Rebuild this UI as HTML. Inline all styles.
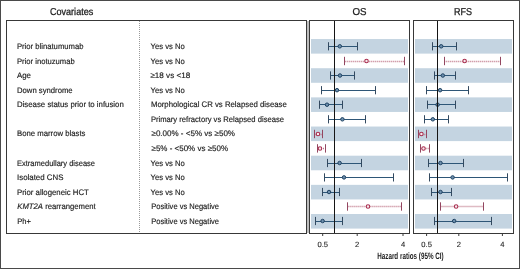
<!DOCTYPE html>
<html><head><meta charset="utf-8"><style>
html,body{margin:0;padding:0;background:#fff;}
body{width:520px;height:269px;overflow:hidden;font-family:"Liberation Sans",sans-serif;}
svg{display:block;will-change:transform;}
</style></head><body>
<svg width="520" height="269" viewBox="0 0 520 269">
<rect x="0.5" y="0.5" width="519" height="268" fill="none" stroke="#4a4a4a" stroke-width="1"/>
<rect x="6.5" y="20.5" width="300" height="213" fill="none" stroke="#383838" stroke-width="1"/>
<rect x="307" y="21" width="2" height="212" fill="#bdbdbd"/>
<line x1="139.5" y1="21" x2="139.5" y2="233" stroke="#9a9a9a" stroke-width="1" stroke-dasharray="1 1"/>
<rect x="311" y="39.05" width="97" height="14.58" fill="#c4d4e1"/>
<rect x="311" y="68.21" width="97" height="14.58" fill="#c4d4e1"/>
<rect x="311" y="97.37" width="97" height="14.58" fill="#c4d4e1"/>
<rect x="311" y="126.53" width="97" height="14.58" fill="#c4d4e1"/>
<rect x="311" y="155.69" width="97" height="14.58" fill="#c4d4e1"/>
<rect x="311" y="184.85" width="97" height="14.58" fill="#c4d4e1"/>
<rect x="311" y="214.01" width="97" height="14.58" fill="#c4d4e1"/>
<rect x="415" y="39.05" width="97" height="14.58" fill="#c4d4e1"/>
<rect x="415" y="68.21" width="97" height="14.58" fill="#c4d4e1"/>
<rect x="415" y="97.37" width="97" height="14.58" fill="#c4d4e1"/>
<rect x="415" y="126.53" width="97" height="14.58" fill="#c4d4e1"/>
<rect x="415" y="155.69" width="97" height="14.58" fill="#c4d4e1"/>
<rect x="415" y="184.85" width="97" height="14.58" fill="#c4d4e1"/>
<rect x="415" y="214.01" width="97" height="14.58" fill="#c4d4e1"/>
<rect x="309.5" y="20.5" width="100" height="213" fill="none" stroke="#383838" stroke-width="1"/>
<rect x="413.5" y="20.5" width="100" height="213" fill="none" stroke="#383838" stroke-width="1"/>
<line x1="322.7" y1="233" x2="322.7" y2="236" stroke="#383838" stroke-width="1"/>
<line x1="357.2" y1="233" x2="357.2" y2="236" stroke="#383838" stroke-width="1"/>
<line x1="403.0" y1="233" x2="403.0" y2="236" stroke="#383838" stroke-width="1"/>
<line x1="426.6" y1="233" x2="426.6" y2="236" stroke="#383838" stroke-width="1"/>
<line x1="458.8" y1="233" x2="458.8" y2="236" stroke="#383838" stroke-width="1"/>
<line x1="502.4" y1="233" x2="502.4" y2="236" stroke="#383838" stroke-width="1"/>
<line x1="328.7" y1="46.5" x2="357.5" y2="46.5" stroke="#2e5677" stroke-width="1"/>
<line x1="328.5" y1="42.20" x2="328.5" y2="50.40" stroke="#33495f" stroke-width="1"/>
<line x1="357.5" y1="42.20" x2="357.5" y2="50.40" stroke="#33495f" stroke-width="1"/>
<circle cx="339.8" cy="46.30" r="1.75" fill="#6d8fad" stroke="#1f4262" stroke-width="1"/>
<line x1="344.7" y1="61.5" x2="404.3" y2="61.5" stroke="#bf7688" stroke-width="1.4" stroke-dasharray="1 1"/>
<line x1="344.5" y1="56.80" x2="344.5" y2="65.20" stroke="#934660" stroke-width="1"/>
<line x1="404.5" y1="56.80" x2="404.5" y2="65.20" stroke="#934660" stroke-width="1"/>
<circle cx="366.5" cy="61.00" r="1.75" fill="#f6eaee" stroke="#a82b4d" stroke-width="1.05"/>
<line x1="330.6" y1="75.5" x2="354" y2="75.5" stroke="#2e5677" stroke-width="1"/>
<line x1="330.5" y1="71.40" x2="330.5" y2="79.60" stroke="#33495f" stroke-width="1"/>
<line x1="354.5" y1="71.40" x2="354.5" y2="79.60" stroke="#33495f" stroke-width="1"/>
<circle cx="340" cy="75.50" r="1.75" fill="#6d8fad" stroke="#1f4262" stroke-width="1"/>
<line x1="321.4" y1="90.5" x2="375.6" y2="90.5" stroke="#2e5677" stroke-width="1"/>
<line x1="321.5" y1="86.10" x2="321.5" y2="94.30" stroke="#33495f" stroke-width="1"/>
<line x1="375.5" y1="86.10" x2="375.5" y2="94.30" stroke="#33495f" stroke-width="1"/>
<circle cx="337" cy="90.20" r="1.75" fill="#6d8fad" stroke="#1f4262" stroke-width="1"/>
<line x1="319.6" y1="104.5" x2="342.4" y2="104.5" stroke="#2e5677" stroke-width="1"/>
<line x1="319.5" y1="100.60" x2="319.5" y2="108.80" stroke="#33495f" stroke-width="1"/>
<line x1="342.5" y1="100.60" x2="342.5" y2="108.80" stroke="#33495f" stroke-width="1"/>
<circle cx="327" cy="104.70" r="1.75" fill="#6d8fad" stroke="#1f4262" stroke-width="1"/>
<line x1="328.6" y1="119.5" x2="365" y2="119.5" stroke="#2e5677" stroke-width="1"/>
<line x1="328.5" y1="115.20" x2="328.5" y2="123.40" stroke="#33495f" stroke-width="1"/>
<line x1="365.5" y1="115.20" x2="365.5" y2="123.40" stroke="#33495f" stroke-width="1"/>
<circle cx="342.4" cy="119.30" r="1.75" fill="#6d8fad" stroke="#1f4262" stroke-width="1"/>
<line x1="314.6" y1="134.5" x2="322.4" y2="134.5" stroke="#bf7688" stroke-width="1.4" stroke-dasharray="1 1"/>
<line x1="314.5" y1="129.80" x2="314.5" y2="138.20" stroke="#934660" stroke-width="1"/>
<line x1="322.5" y1="129.80" x2="322.5" y2="138.20" stroke="#934660" stroke-width="1"/>
<circle cx="318" cy="134.00" r="1.75" fill="#f6eaee" stroke="#a82b4d" stroke-width="1.05"/>
<line x1="317" y1="148.5" x2="325" y2="148.5" stroke="#bf7688" stroke-width="1.4" stroke-dasharray="1 1"/>
<line x1="317.5" y1="144.20" x2="317.5" y2="152.60" stroke="#934660" stroke-width="1"/>
<line x1="325.5" y1="144.20" x2="325.5" y2="152.60" stroke="#934660" stroke-width="1"/>
<circle cx="320" cy="148.40" r="1.75" fill="#f6eaee" stroke="#a82b4d" stroke-width="1.05"/>
<line x1="327.6" y1="163.5" x2="361.6" y2="163.5" stroke="#2e5677" stroke-width="1"/>
<line x1="327.5" y1="158.90" x2="327.5" y2="167.10" stroke="#33495f" stroke-width="1"/>
<line x1="361.5" y1="158.90" x2="361.5" y2="167.10" stroke="#33495f" stroke-width="1"/>
<circle cx="339.6" cy="163.00" r="1.75" fill="#6d8fad" stroke="#1f4262" stroke-width="1"/>
<line x1="324" y1="177.5" x2="393.6" y2="177.5" stroke="#2e5677" stroke-width="1"/>
<line x1="324.5" y1="173.30" x2="324.5" y2="181.50" stroke="#33495f" stroke-width="1"/>
<line x1="393.5" y1="173.30" x2="393.5" y2="181.50" stroke="#33495f" stroke-width="1"/>
<circle cx="344" cy="177.40" r="1.75" fill="#6d8fad" stroke="#1f4262" stroke-width="1"/>
<line x1="322.6" y1="192.5" x2="339.4" y2="192.5" stroke="#2e5677" stroke-width="1"/>
<line x1="322.5" y1="187.90" x2="322.5" y2="196.10" stroke="#33495f" stroke-width="1"/>
<line x1="339.5" y1="187.90" x2="339.5" y2="196.10" stroke="#33495f" stroke-width="1"/>
<circle cx="329" cy="192.00" r="1.75" fill="#6d8fad" stroke="#1f4262" stroke-width="1"/>
<line x1="347.6" y1="206.5" x2="401.6" y2="206.5" stroke="#bf7688" stroke-width="1.4" stroke-dasharray="1 1"/>
<line x1="347.5" y1="202.30" x2="347.5" y2="210.70" stroke="#934660" stroke-width="1"/>
<line x1="401.5" y1="202.30" x2="401.5" y2="210.70" stroke="#934660" stroke-width="1"/>
<circle cx="368" cy="206.50" r="1.75" fill="#f6eaee" stroke="#a82b4d" stroke-width="1.05"/>
<line x1="315.4" y1="221.5" x2="342.4" y2="221.5" stroke="#2e5677" stroke-width="1"/>
<line x1="315.5" y1="216.90" x2="315.5" y2="225.10" stroke="#33495f" stroke-width="1"/>
<line x1="342.5" y1="216.90" x2="342.5" y2="225.10" stroke="#33495f" stroke-width="1"/>
<circle cx="322.6" cy="221.00" r="1.75" fill="#6d8fad" stroke="#1f4262" stroke-width="1"/>
<line x1="432.2" y1="46.5" x2="456.1" y2="46.5" stroke="#2e5677" stroke-width="1"/>
<line x1="432.5" y1="42.20" x2="432.5" y2="50.40" stroke="#33495f" stroke-width="1"/>
<line x1="456.5" y1="42.20" x2="456.5" y2="50.40" stroke="#33495f" stroke-width="1"/>
<circle cx="441.2" cy="46.30" r="1.75" fill="#6d8fad" stroke="#1f4262" stroke-width="1"/>
<line x1="444.3" y1="61.5" x2="500.5" y2="61.5" stroke="#bf7688" stroke-width="1.4" stroke-dasharray="1 1"/>
<line x1="444.5" y1="56.80" x2="444.5" y2="65.20" stroke="#934660" stroke-width="1"/>
<line x1="500.5" y1="56.80" x2="500.5" y2="65.20" stroke="#934660" stroke-width="1"/>
<circle cx="464.6" cy="61.00" r="1.75" fill="#f6eaee" stroke="#a82b4d" stroke-width="1.05"/>
<line x1="434.5" y1="75.5" x2="455.3" y2="75.5" stroke="#2e5677" stroke-width="1"/>
<line x1="434.5" y1="71.40" x2="434.5" y2="79.60" stroke="#33495f" stroke-width="1"/>
<line x1="455.5" y1="71.40" x2="455.5" y2="79.60" stroke="#33495f" stroke-width="1"/>
<circle cx="442.8" cy="75.50" r="1.75" fill="#6d8fad" stroke="#1f4262" stroke-width="1"/>
<line x1="426.6" y1="90.5" x2="468.6" y2="90.5" stroke="#2e5677" stroke-width="1"/>
<line x1="426.5" y1="86.10" x2="426.5" y2="94.30" stroke="#33495f" stroke-width="1"/>
<line x1="468.5" y1="86.10" x2="468.5" y2="94.30" stroke="#33495f" stroke-width="1"/>
<circle cx="440.1" cy="90.20" r="1.75" fill="#6d8fad" stroke="#1f4262" stroke-width="1"/>
<line x1="427" y1="104.5" x2="455" y2="104.5" stroke="#2e5677" stroke-width="1"/>
<line x1="427.5" y1="100.60" x2="427.5" y2="108.80" stroke="#33495f" stroke-width="1"/>
<line x1="455.5" y1="100.60" x2="455.5" y2="108.80" stroke="#33495f" stroke-width="1"/>
<circle cx="437.6" cy="104.70" r="1.75" fill="#6d8fad" stroke="#1f4262" stroke-width="1"/>
<line x1="424.5" y1="119.5" x2="448.4" y2="119.5" stroke="#2e5677" stroke-width="1"/>
<line x1="424.5" y1="115.20" x2="424.5" y2="123.40" stroke="#33495f" stroke-width="1"/>
<line x1="448.5" y1="115.20" x2="448.5" y2="123.40" stroke="#33495f" stroke-width="1"/>
<circle cx="432.8" cy="119.30" r="1.75" fill="#6d8fad" stroke="#1f4262" stroke-width="1"/>
<line x1="418.3" y1="134.5" x2="426.2" y2="134.5" stroke="#bf7688" stroke-width="1.4" stroke-dasharray="1 1"/>
<line x1="418.5" y1="129.80" x2="418.5" y2="138.20" stroke="#934660" stroke-width="1"/>
<line x1="426.5" y1="129.80" x2="426.5" y2="138.20" stroke="#934660" stroke-width="1"/>
<circle cx="421.4" cy="134.00" r="1.75" fill="#f6eaee" stroke="#a82b4d" stroke-width="1.05"/>
<line x1="420.4" y1="148.5" x2="429.1" y2="148.5" stroke="#bf7688" stroke-width="1.4" stroke-dasharray="1 1"/>
<line x1="420.5" y1="144.20" x2="420.5" y2="152.60" stroke="#934660" stroke-width="1"/>
<line x1="429.5" y1="144.20" x2="429.5" y2="152.60" stroke="#934660" stroke-width="1"/>
<circle cx="423.5" cy="148.40" r="1.75" fill="#f6eaee" stroke="#a82b4d" stroke-width="1.05"/>
<line x1="428.3" y1="163.5" x2="463.4" y2="163.5" stroke="#2e5677" stroke-width="1"/>
<line x1="428.5" y1="158.90" x2="428.5" y2="167.10" stroke="#33495f" stroke-width="1"/>
<line x1="463.5" y1="158.90" x2="463.5" y2="167.10" stroke="#33495f" stroke-width="1"/>
<circle cx="440.5" cy="163.00" r="1.75" fill="#6d8fad" stroke="#1f4262" stroke-width="1"/>
<line x1="429.7" y1="177.5" x2="507" y2="177.5" stroke="#2e5677" stroke-width="1"/>
<line x1="429.5" y1="173.30" x2="429.5" y2="181.50" stroke="#33495f" stroke-width="1"/>
<line x1="507.5" y1="173.30" x2="507.5" y2="181.50" stroke="#33495f" stroke-width="1"/>
<circle cx="452.6" cy="177.40" r="1.75" fill="#6d8fad" stroke="#1f4262" stroke-width="1"/>
<line x1="431.8" y1="192.5" x2="451.5" y2="192.5" stroke="#2e5677" stroke-width="1"/>
<line x1="431.5" y1="187.90" x2="431.5" y2="196.10" stroke="#33495f" stroke-width="1"/>
<line x1="451.5" y1="187.90" x2="451.5" y2="196.10" stroke="#33495f" stroke-width="1"/>
<circle cx="440.5" cy="192.00" r="1.75" fill="#6d8fad" stroke="#1f4262" stroke-width="1"/>
<line x1="440.5" y1="206.5" x2="483.1" y2="206.5" stroke="#bf7688" stroke-width="1.4" stroke-dasharray="1 1"/>
<line x1="440.5" y1="202.30" x2="440.5" y2="210.70" stroke="#934660" stroke-width="1"/>
<line x1="483.5" y1="202.30" x2="483.5" y2="210.70" stroke="#934660" stroke-width="1"/>
<circle cx="456.1" cy="206.50" r="1.75" fill="#f6eaee" stroke="#a82b4d" stroke-width="1.05"/>
<line x1="434.9" y1="221.5" x2="491.6" y2="221.5" stroke="#2e5677" stroke-width="1"/>
<line x1="434.5" y1="216.90" x2="434.5" y2="225.10" stroke="#33495f" stroke-width="1"/>
<line x1="491.5" y1="216.90" x2="491.5" y2="225.10" stroke="#33495f" stroke-width="1"/>
<circle cx="454.2" cy="221.00" r="1.75" fill="#6d8fad" stroke="#1f4262" stroke-width="1"/>
<line x1="334.5" y1="21" x2="334.5" y2="233" stroke="#151515" stroke-width="1"/>
<line x1="437.5" y1="21" x2="437.5" y2="233" stroke="#151515" stroke-width="1"/>
<g text-rendering="geometricPrecision" font-family="Liberation Sans, sans-serif" fill="#1c1c1c" stroke="#1c1c1c" stroke-width="0.16">
<text transform="translate(49.90 15.20) scale(0.9079 1)" font-size="10.0" font-weight="normal" stroke-width="0.28">Covariates</text>
<text transform="translate(352.50 15.00) scale(0.9722 1)" font-size="10.0" font-weight="normal" stroke-width="0.28">OS</text>
<text transform="translate(454.00 15.00) scale(0.9000 1)" font-size="10.0" font-weight="normal" stroke-width="0.28">RFS</text>
<text transform="translate(16.90 49.20) scale(0.9602 1)" font-size="8.0" font-weight="normal" >Prior blinatumumab</text>
<text transform="translate(17.00 63.74) scale(0.9540 1)" font-size="8.0" font-weight="normal" >Prior inotuzumab</text>
<text transform="translate(17.00 78.28) scale(0.9831 1)" font-size="8.0" font-weight="normal" >Age</text>
<text transform="translate(17.00 92.82) scale(0.9626 1)" font-size="8.0" font-weight="normal" >Down syndrome</text>
<text transform="translate(17.00 107.36) scale(0.9761 1)" font-size="8.0" font-weight="normal" >Disease status prior to infusion</text>
<text transform="translate(17.00 136.44) scale(0.9686 1)" font-size="8.0" font-weight="normal" >Bone marrow blasts</text>
<text transform="translate(17.00 165.52) scale(0.9384 1)" font-size="8.0" font-weight="normal" >Extramedullary disease</text>
<text transform="translate(17.00 180.06) scale(0.9847 1)" font-size="8.0" font-weight="normal" >Isolated CNS</text>
<text transform="translate(17.00 194.60) scale(0.9724 1)" font-size="8.0" font-weight="normal" >Prior allogeneic HCT</text>
<text transform="translate(17.30 209.14) scale(0.9632 1)" font-size="8.0" font-weight="normal" ><tspan font-style='italic'>KMT2A</tspan> rearrangement</text>
<text transform="translate(17.30 223.68) scale(0.9461 1)" font-size="8.0" font-weight="normal" >Ph+</text>
<text transform="translate(150.60 49.20) scale(0.9592 1)" font-size="8.0" font-weight="normal" >Yes vs No</text>
<text transform="translate(150.60 63.74) scale(0.9592 1)" font-size="8.0" font-weight="normal" >Yes vs No</text>
<text transform="translate(150.40 78.28) scale(1.0132 1)" font-size="8.0" font-weight="normal" >≥18 vs &lt;18</text>
<text transform="translate(150.60 92.82) scale(0.9592 1)" font-size="8.0" font-weight="normal" >Yes vs No</text>
<text transform="translate(150.90 107.36) scale(0.9735 1)" font-size="8.0" font-weight="normal" >Morphological CR vs Relapsed disease</text>
<text transform="translate(150.90 121.90) scale(0.9534 1)" font-size="8.0" font-weight="normal" >Primary refractory vs Relapsed disease</text>
<text transform="translate(151.50 136.44) scale(1.0026 1)" font-size="8.0" font-weight="normal" >≥0.00% - &lt;5% vs ≥50%</text>
<text transform="translate(151.50 150.98) scale(0.9992 1)" font-size="8.0" font-weight="normal" >≥5% - &lt;50% vs ≥50%</text>
<text transform="translate(150.60 165.52) scale(0.9592 1)" font-size="8.0" font-weight="normal" >Yes vs No</text>
<text transform="translate(150.60 180.06) scale(0.9592 1)" font-size="8.0" font-weight="normal" >Yes vs No</text>
<text transform="translate(150.60 194.60) scale(0.9592 1)" font-size="8.0" font-weight="normal" >Yes vs No</text>
<text transform="translate(151.20 209.14) scale(0.9417 1)" font-size="8.0" font-weight="normal" >Positive vs Negative</text>
<text transform="translate(151.20 223.68) scale(0.9417 1)" font-size="8.0" font-weight="normal" >Positive vs Negative</text>
<text x="322.7" y="246.6" font-size="7.6" text-anchor="middle" stroke-width="0.1">0.5</text>
<text x="357.2" y="246.6" font-size="7.6" text-anchor="middle" stroke-width="0.1">2</text>
<text x="403.0" y="246.6" font-size="7.6" text-anchor="middle" stroke-width="0.1">4</text>
<text x="426.6" y="246.6" font-size="7.6" text-anchor="middle" stroke-width="0.1">0.5</text>
<text x="458.8" y="246.6" font-size="7.6" text-anchor="middle" stroke-width="0.1">2</text>
<text x="502.4" y="246.6" font-size="7.6" text-anchor="middle" stroke-width="0.1">4</text>
<text transform="translate(377.20 259.30) scale(0.6855 1)" font-size="9.2" font-weight="bold" stroke-width="0">Hazard ratios (95% CI)</text>
</g>
</svg>
</body></html>
